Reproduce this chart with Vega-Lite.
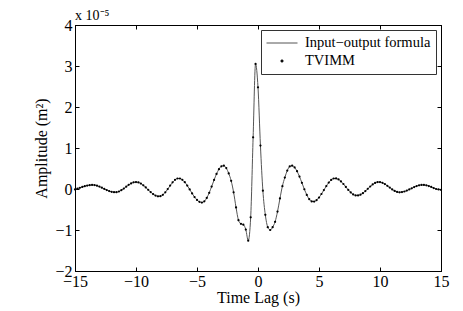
{
  "$schema": "https://vega.github.io/schema/vega-lite/v6.json",
  "width": 366,
  "height": 246,
  "autosize": "none",
  "padding": {"left": 75, "top": 25, "right": 22, "bottom": 40},
  "background": "white",
  "title": {"text": "x 10⁻⁵", "anchor": "start", "frame": "group", "font": "Liberation Serif", "fontSize": 14, "fontWeight": "normal", "color": "black", "offset": -6},
  "config": {
    "view": {"stroke": "black", "strokeWidth": 1},
    "font": "Liberation Serif",
    "axis": {
      "grid": false,
      "domainColor": "black",
      "tickColor": "black",
      "labelColor": "black",
      "titleColor": "black",
      "labelFont": "Liberation Serif",
      "titleFont": "Liberation Serif",
      "labelFontSize": 16,
      "titleFontSize": 16,
      "titleFontWeight": "normal",
      "labelFlush": false,
      "labelOverlap": false,
      "tickSize": -4
    }
  },
  "data": {"values": [
    {"t": -15.0, "amp": -0.01}, {"t": -14.8, "amp": 0.01}, {"t": -14.6, "amp": 0.03}, {"t": -14.4, "amp": 0.05},
    {"t": -14.2, "amp": 0.068}, {"t": -14.0, "amp": 0.083}, {"t": -13.8, "amp": 0.094}, {"t": -13.6, "amp": 0.10},
    {"t": -13.4, "amp": 0.095}, {"t": -13.2, "amp": 0.081}, {"t": -13.0, "amp": 0.059}, {"t": -12.8, "amp": 0.032},
    {"t": -12.6, "amp": 0.003}, {"t": -12.4, "amp": -0.026}, {"t": -12.2, "amp": -0.051}, {"t": -12.0, "amp": -0.069},
    {"t": -11.8, "amp": -0.079}, {"t": -11.6, "amp": -0.078}, {"t": -11.4, "amp": -0.061}, {"t": -11.2, "amp": -0.030},
    {"t": -11.0, "amp": 0.011}, {"t": -10.8, "amp": 0.057}, {"t": -10.6, "amp": 0.101}, {"t": -10.4, "amp": 0.137},
    {"t": -10.2, "amp": 0.162}, {"t": -10.0, "amp": 0.170}, {"t": -9.8, "amp": 0.161}, {"t": -9.6, "amp": 0.133},
    {"t": -9.4, "amp": 0.091}, {"t": -9.2, "amp": 0.038}, {"t": -9.0, "amp": -0.019}, {"t": -8.8, "amp": -0.075},
    {"t": -8.6, "amp": -0.123}, {"t": -8.4, "amp": -0.159}, {"t": -8.2, "amp": -0.178}, {"t": -8.0, "amp": -0.176},
    {"t": -7.8, "amp": -0.143}, {"t": -7.6, "amp": -0.082}, {"t": -7.4, "amp": -0.003}, {"t": -7.2, "amp": 0.083},
    {"t": -7.0, "amp": 0.162}, {"t": -6.8, "amp": 0.223}, {"t": -6.6, "amp": 0.256}, {"t": -6.4, "amp": 0.256},
    {"t": -6.2, "amp": 0.225}, {"t": -6.0, "amp": 0.165}, {"t": -5.8, "amp": 0.084}, {"t": -5.6, "amp": -0.011},
    {"t": -5.4, "amp": -0.107}, {"t": -5.2, "amp": -0.196}, {"t": -5.0, "amp": -0.268}, {"t": -4.8, "amp": -0.314},
    {"t": -4.6, "amp": -0.330}, {"t": -4.4, "amp": -0.301}, {"t": -4.2, "amp": -0.219}, {"t": -4.0, "amp": -0.093},
    {"t": -3.8, "amp": 0.060}, {"t": -3.6, "amp": 0.220}, {"t": -3.4, "amp": 0.368}, {"t": -3.2, "amp": 0.484},
    {"t": -3.0, "amp": 0.554}, {"t": -2.8, "amp": 0.568}, {"t": -2.6, "amp": 0.51}, {"t": -2.4, "amp": 0.38},
    {"t": -2.2, "amp": 0.20}, {"t": -2.0, "amp": -0.08}, {"t": -1.8, "amp": -0.45}, {"t": -1.6, "amp": -0.76},
    {"t": -1.4, "amp": -0.85}, {"t": -1.2, "amp": -0.87}, {"t": -1.0, "amp": -0.99}, {"t": -0.8, "amp": -1.26},
    {"t": -0.6, "amp": -0.69}, {"t": -0.4, "amp": 1.26}, {"t": -0.2, "amp": 3.05}, {"t": 0.0, "amp": 2.48},
    {"t": 0.2, "amp": 1.06}, {"t": 0.4, "amp": -0.04}, {"t": 0.6, "amp": -0.63}, {"t": 0.8, "amp": -0.93},
    {"t": 1.0, "amp": -1.00}, {"t": 1.2, "amp": -0.93}, {"t": 1.4, "amp": -0.80}, {"t": 1.6, "amp": -0.55},
    {"t": 1.8, "amp": -0.23}, {"t": 2.0, "amp": 0.07}, {"t": 2.2, "amp": 0.28}, {"t": 2.4, "amp": 0.45},
    {"t": 2.6, "amp": 0.55}, {"t": 2.8, "amp": 0.57}, {"t": 3.0, "amp": 0.526}, {"t": 3.2, "amp": 0.434},
    {"t": 3.4, "amp": 0.303}, {"t": 3.6, "amp": 0.150}, {"t": 3.8, "amp": -0.006}, {"t": 4.0, "amp": -0.145},
    {"t": 4.2, "amp": -0.248}, {"t": 4.4, "amp": -0.303}, {"t": 4.6, "amp": -0.306}, {"t": 4.8, "amp": -0.272},
    {"t": 5.0, "amp": -0.208}, {"t": 5.2, "amp": -0.122}, {"t": 5.4, "amp": -0.025}, {"t": 5.6, "amp": 0.072},
    {"t": 5.8, "amp": 0.158}, {"t": 6.0, "amp": 0.222}, {"t": 6.2, "amp": 0.256}, {"t": 6.4, "amp": 0.257},
    {"t": 6.6, "amp": 0.232}, {"t": 6.8, "amp": 0.185}, {"t": 7.0, "amp": 0.122}, {"t": 7.2, "amp": 0.050},
    {"t": 7.4, "amp": -0.022}, {"t": 7.6, "amp": -0.085}, {"t": 7.8, "amp": -0.132}, {"t": 8.0, "amp": -0.157},
    {"t": 8.2, "amp": -0.158}, {"t": 8.4, "amp": -0.138}, {"t": 8.6, "amp": -0.101}, {"t": 8.8, "amp": -0.051},
    {"t": 9.0, "amp": 0.005}, {"t": 9.2, "amp": 0.061}, {"t": 9.4, "amp": 0.111}, {"t": 9.6, "amp": 0.148},
    {"t": 9.8, "amp": 0.168}, {"t": 10.0, "amp": 0.168}, {"t": 10.2, "amp": 0.151}, {"t": 10.4, "amp": 0.120},
    {"t": 10.6, "amp": 0.079}, {"t": 10.8, "amp": 0.034}, {"t": 11.0, "amp": -0.011}, {"t": 11.2, "amp": -0.047},
    {"t": 11.4, "amp": -0.072}, {"t": 11.6, "amp": -0.080}, {"t": 11.8, "amp": -0.075}, {"t": 12.0, "amp": -0.061},
    {"t": 12.2, "amp": -0.039}, {"t": 12.4, "amp": -0.012}, {"t": 12.6, "amp": 0.017}, {"t": 12.8, "amp": 0.046},
    {"t": 13.0, "amp": 0.071}, {"t": 13.2, "amp": 0.089}, {"t": 13.4, "amp": 0.099}, {"t": 13.6, "amp": 0.099},
    {"t": 13.8, "amp": 0.090}, {"t": 14.0, "amp": 0.073}, {"t": 14.2, "amp": 0.049}, {"t": 14.4, "amp": 0.022},
    {"t": 14.6, "amp": 0.000}, {"t": 14.8, "amp": -0.012}, {"t": 15.0, "amp": -0.020}
  ]},
  "layer": [
    {
      "mark": {"type": "line", "strokeWidth": 1, "interpolate": "monotone"},
      "encoding": {
        "x": {"field": "t", "type": "quantitative", "scale": {"domain": [-15, 15], "nice": false},
              "axis": {"orient": "bottom", "values": [-15, -10, -5, 0, 5, 10, 15], "title": "Time Lag (s)", "labelPadding": 6, "titlePadding": 0}},
        "y": {"field": "amp", "type": "quantitative", "scale": {"domain": [-2, 4], "nice": false},
              "axis": {"orient": "left", "values": [-2, -1, 0, 1, 2, 3, 4], "title": "Amplitude (m²)", "labelPadding": 7, "titlePadding": 5}},
        "color": {"datum": "Input−output formula", "type": "nominal",
                  "scale": {"domain": ["Input−output formula", "TVIMM"], "range": ["#555555", "#000000"]},
                  "legend": {
                    "title": null, "orient": "none", "legendX": 186, "legendY": 5, "direction": "vertical",
                    "strokeColor": "#333333", "fillColor": "white", "padding": 5,
                    "labelFont": "Liberation Serif", "labelFontSize": 14.5, "labelColor": "black",
                    "symbolType": "stroke", "symbolSize": 961, "clipHeight": 16, "rowPadding": 2, "labelOffset": 7,
                    "encode": {"symbols": {"update": {
                      "shape": {"signal": "datum.value === 'TVIMM' ? 'circle' : 'stroke'"},
                      "size": {"signal": "datum.value === 'TVIMM' ? 5 : 961"},
                      "fill": {"signal": "datum.value === 'TVIMM' ? '#000000' : 'transparent'"},
                      "stroke": {"signal": "datum.value === 'TVIMM' ? 'transparent' : '#555555'"},
                      "strokeWidth": {"value": 1},
                      "opacity": {"value": 1}
                    }}}
                  }}
      }
    },
    {
      "mark": {"type": "point", "filled": true, "size": 5, "opacity": 1},
      "encoding": {
        "x": {"field": "t", "type": "quantitative", "scale": {"domain": [-15, 15], "nice": false},
              "axis": {"orient": "top", "values": [-15, -10, -5, 0, 5, 10, 15], "labels": false, "title": null}},
        "y": {"field": "amp", "type": "quantitative", "scale": {"domain": [-2, 4], "nice": false},
              "axis": {"orient": "right", "values": [-2, -1, 0, 1, 2, 3, 4], "labels": false, "title": null}},
        "color": {"datum": "TVIMM", "type": "nominal"}
      }
    }
  ],
  "resolve": {"axis": {"x": "independent", "y": "independent"}}
}
